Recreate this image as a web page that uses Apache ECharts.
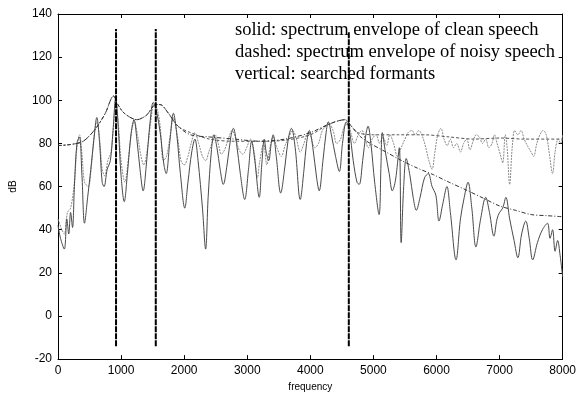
<!DOCTYPE html>
<html>
<head>
<meta charset="utf-8">
<script src="https://cdn.jsdelivr.net/npm/echarts@6/dist/echarts.min.js"></script>
<style>
  html, body { margin: 0; padding: 0; background: #fff; }
  #chart { width: 579px; height: 397px; }
</style>
</head>
<body>
<div id="chart"></div>
<script>
// ---- data (frequency [Hz], level [dB]) ----
var xTicks = [0, 1000, 2000, 3000, 4000, 5000, 6000, 7000, 8000];
var yTicks = [-20, 0, 20, 40, 60, 80, 100, 120, 140];

var cleanSpectrum = [
  [0,42],[40,36],[100,31],[140,45],[170,38],[200,48],[230,41],[260,60],[300,80],[340,83],[380,65],[420,43],
  [470,55],[520,68],[570,82],[615,92],[660,80],[700,62],[730,60],[780,68],[830,72],[870,85],[915,101],[960,85],
  [1000,65],[1050,53],[1100,66],[1160,85],[1205,91],[1250,82],[1300,68],[1350,58],[1400,70],[1460,90],[1510,99],
  [1560,95],[1620,85],[1680,70],[1715,66],[1770,80],[1830,94],[1880,85],[1940,66],[2010,50],[2060,62],[2120,76],
  [2170,82],[2220,72],[2290,50],[2340,31],[2380,55],[2430,76],[2470,84],[2520,78],[2570,68],[2620,61],[2680,70],
  [2740,83],[2780,87],[2830,80],[2890,66],[2960,54],[3020,68],[3070,81],[3120,72],[3190,55],[3230,70],[3270,82],
  [3300,76],[3340,72],[3380,80],[3410,84],[3460,74],[3530,57],[3600,70],[3650,82],[3700,87],[3760,78],[3840,54],
  [3900,68],[3940,80],[3985,86],[4040,78],[4100,64],[4140,58],[4200,72],[4250,85],[4285,90],[4340,83],[4400,74],
  [4460,67],[4510,80],[4570,90],[4620,86],[4680,72],[4740,62],[4775,61],[4830,72],[4880,84],[4915,88],[4960,80],
  [5020,62],[5090,47],[5120,70],[5140,85],[5190,76],[5250,66],[5300,58],[5350,63],[5410,78],[5440,34],[5480,60],
  [5520,73],[5580,65],[5630,55],[5680,49],[5740,55],[5810,64],[5870,66],[5930,60],[5990,56],[6040,44],[6100,52],
  [6165,60],[6220,48],[6310,26],[6380,45],[6440,55],[6500,62],[6560,50],[6625,32],[6700,45],[6780,55],[6840,48],
  [6910,37],[6960,45],[7000,48],[7050,50],[7100,55],[7160,45],[7230,35],[7290,27],[7350,38],[7415,44],[7470,36],
  [7525,26],[7600,34],[7680,40],[7760,43],[7800,36],[7840,40],[7880,30],[7920,35],[7960,28],[8000,18]
];

var noisySpectrum = [
  [0,45],[60,40],[100,38],[150,48],[200,50],[260,62],[300,78],[340,84],[380,75],[420,62],[480,60],[530,70],
  [570,83],[615,90],[660,82],[700,68],[740,65],[790,72],[840,76],[880,88],[915,100],[960,88],[1000,72],[1060,62],
  [1120,74],[1170,86],[1210,90],[1260,84],[1310,75],[1360,70],[1420,78],[1470,90],[1520,98],[1570,96],[1620,88],
  [1670,72],[1720,74],[1780,84],[1830,92],[1890,84],[1950,72],[2000,70],[2060,74],[2110,80],[2170,85],[2230,80],
  [2290,74],[2340,72],[2390,76],[2440,80],[2490,84],[2540,80],[2590,75],[2640,77],[2700,82],[2760,86],[2810,83],
  [2870,77],[2930,75],[2990,78],[3050,82],[3110,76],[3160,64],[3200,72],[3260,80],[3310,70],[3360,78],[3410,83],
  [3470,78],[3540,74],[3600,79],[3660,83],[3720,86],[3780,82],[3840,76],[3900,80],[3960,85],[4010,83],[4070,78],
  [4130,80],[4190,86],[4250,88],[4300,89],[4360,86],[4420,80],[4480,82],[4540,88],[4600,89],[4650,84],[4700,80],
  [4760,84],[4820,86],[4870,82],[4920,78],[4980,82],[5040,84],[5100,80],[5150,83],[5210,79],[5260,84],[5320,80],
  [5380,74],[5440,78],[5500,82],[5550,85],[5610,86],[5660,84],[5720,86],[5780,83],[5830,78],[5880,72],[5930,68],
  [5970,75],[6020,84],[6070,87],[6120,82],[6170,79],[6220,82],[6270,78],[6320,80],[6380,76],[6430,80],[6480,82],
  [6530,77],[6580,81],[6630,84],[6680,83],[6730,80],[6780,82],[6830,78],[6880,80],[6920,84],[6960,80],[7010,75],
  [7050,71],[7090,84],[7120,78],[7160,61],[7200,78],[7240,86],[7290,84],[7340,86],[7390,82],[7440,79],[7500,76],
  [7540,74],[7590,80],[7640,84],[7690,86],[7740,84],[7790,75],[7840,66],[7880,76],[7930,82],[7970,80],[8000,84]
];

var cleanEnvelope = [
  [0,79],[200,79.5],[400,81],[600,87],[750,94],[880,102],[950,98],[1050,94],[1250,91],[1400,93],[1550,98],
  [1620,98],[1750,94],[1900,88],[2100,84],[2400,83],[2800,82],[3200,81],[3600,82],[4000,85],[4300,89],[4550,91],
  [4650,88],[4800,83],[4950,80],[5200,76],[5450,72],[5700,68.5],[5950,65.5],[6200,62],[6500,58],[6750,54.5],
  [7000,51],[7250,49],[7500,47],[7750,46.5],[8000,46]
];

var noisyEnvelope = [
  [0,79],[200,79.5],[400,81],[600,87],[750,94],[880,102],[950,98],[1050,94],[1250,91],[1400,93],[1550,98],
  [1620,98],[1750,94],[1900,88],[2100,85],[2400,82],[2800,81],[3200,81],[3600,81.5],[4000,84],[4300,89],[4550,91],
  [4650,88],[4750,85],[5000,84],[5400,84],[5800,84],[6200,83],[6600,82],[7000,82.5],[7400,82],[8000,82]
];

var formantFreqs = [920, 1550, 4610];
var formantTops = [133, 133, 132];
var formantBottom = -14;

var annotationLines = [
  'solid: spectrum envelope of clean speech',
  'dashed: spectrum envelope of noisy speech',
  'vertical: searched formants'
];

// ---- chart ----
var chart = echarts.init(document.getElementById('chart'), null, { renderer: 'canvas' });

var tickStyle = { show: true, inside: true, length: 4, lineStyle: { color: '#000', width: 1 } };
var axisLine = { show: true, onZero: false, lineStyle: { color: '#000', width: 1 } };
var plainLabel = function (v) { return String(v); };

var series = [
  { name: 'noisy', type: 'line', xAxisIndex: 0, yAxisIndex: 0, data: noisySpectrum, showSymbol: false, smooth: 0.35,
    lineStyle: { color: '#8a8a8a', width: 1, type: [2, 1] }, z: 2 },
  { name: 'clean', type: 'line', xAxisIndex: 0, yAxisIndex: 0, data: cleanSpectrum, showSymbol: false, smooth: 0.35,
    lineStyle: { color: '#4a4a4a', width: 1 }, z: 3 },
  { name: 'noisyEnv', type: 'line', xAxisIndex: 0, yAxisIndex: 0, data: noisyEnvelope, showSymbol: false, smooth: 0.3,
    lineStyle: { color: '#555', width: 1, type: [3, 2] }, z: 4 },
  { name: 'cleanEnv', type: 'line', xAxisIndex: 0, yAxisIndex: 0, data: cleanEnvelope, showSymbol: false, smooth: 0.3,
    lineStyle: { color: '#333', width: 1, type: [4, 2, 1, 2] }, z: 4 }
];
formantFreqs.forEach(function (f, i) {
  series.push({ type: 'line', xAxisIndex: 0, yAxisIndex: 0, showSymbol: false,
    data: [[f, formantBottom], [f, formantTops[i]]],
    lineStyle: { color: '#000', width: 2, type: [6, 1] }, z: 5 });
});

chart.setOption({
  animation: false,
  backgroundColor: '#fff',
  grid: { left: 56, right: 16, top: 14, bottom: 33, containLabel: false },
  xAxis: [
    { type: 'value', position: 'bottom', min: xTicks[0], max: xTicks[xTicks.length - 1], interval: 1000,
      axisLine: axisLine, axisTick: tickStyle, splitLine: { show: false },
      axisLabel: { color: '#000', fontSize: 12, fontFamily: 'Liberation Sans, Arial, sans-serif', margin: 6, formatter: plainLabel },
      name: 'frequency', nameLocation: 'middle', nameGap: 20,
      nameTextStyle: { color: '#000', fontSize: 10, fontFamily: 'Liberation Sans, Arial, sans-serif' } },
    { type: 'value', position: 'top', min: xTicks[0], max: xTicks[xTicks.length - 1], interval: 1000,
      axisLine: axisLine, axisTick: tickStyle, splitLine: { show: false }, axisLabel: { show: false } }
  ],
  yAxis: [
    { type: 'value', position: 'left', min: yTicks[0], max: yTicks[yTicks.length - 1], interval: 20,
      axisLine: axisLine, axisTick: tickStyle, splitLine: { show: false },
      axisLabel: { color: '#000', fontSize: 12, fontFamily: 'Liberation Sans, Arial, sans-serif', margin: 6, formatter: plainLabel },
      name: 'dB', nameLocation: 'middle', nameGap: 40, nameRotate: 90,
      nameTextStyle: { color: '#000', fontSize: 10, fontFamily: 'Liberation Sans, Arial, sans-serif' } },
    { type: 'value', position: 'right', min: yTicks[0], max: yTicks[yTicks.length - 1], interval: 20,
      axisLine: axisLine, axisTick: tickStyle, splitLine: { show: false }, axisLabel: { show: false } }
  ],
  graphic: annotationLines.map(function (t, i) {
    return { type: 'text', left: 235, top: 21 + i * 22, z: 10,
      style: { text: t, fill: '#000', font: '18.5px "Liberation Serif", "Times New Roman", serif' } };
  }),
  series: series
});
</script>
</body>
</html>
